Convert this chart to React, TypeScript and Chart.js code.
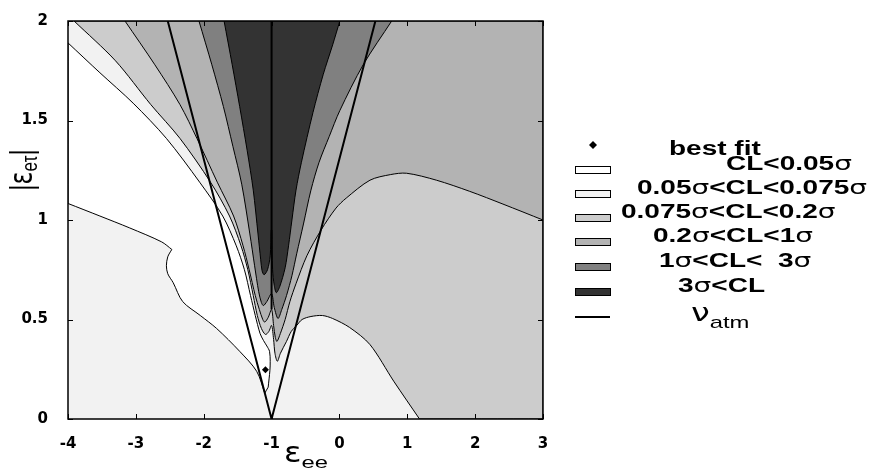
import React, { useEffect, useRef } from 'react';
import { Chart, registerables } from 'chart.js';

Chart.register(...registerables);

type Pt = { x: number; y: number };
const p = (x: number, y: number): Pt => ({ x, y });

// axis ticks
const xTickValues = [-4, -3, -2, -1, 0, 1, 2, 3];
const xTickLabels = ['-4', '-3', '-2', '-1', '0', '1', '2', '3'];
const yTickValues = [0, 0.5, 1, 1.5, 2];
const yTickLabels = ['0', '0.5', '1', '1.5', '2'];

// region colours (CL<0.05, 0.05-0.075, 0.075-0.2, 0.2-1, 1-3, >3 sigma)
const regionColors = ['#ffffff', '#f2f2f2', '#cccccc', '#b3b3b3', '#808080', '#333333'];

// lower-left boundary of the white region (CL = 0.05 sigma, lower branch), split at the kink
const curveAUpper: Pt[] = [
  p(-4, 1.083), p(-3.53, 1.02), p(-3.09, 0.96), p(-2.62, 0.89), p(-2.47, 0.852),
];
const curveALower: Pt[] = [
  p(-2.47, 0.852), p(-2.53, 0.815), p(-2.55, 0.77), p(-2.53, 0.73), p(-2.45, 0.685),
  p(-2.31, 0.59), p(-2.05, 0.52), p(-1.81, 0.455), p(-1.47, 0.34), p(-1.22, 0.24), p(-1.1, 0.13),
];

// CL = 0.05 sigma, upper branch (top-left down into the V)
const line1: Pt[] = [
  p(-4, 1.89), p(-3.53, 1.74), p(-3.04, 1.587), p(-2.55, 1.41), p(-2.06, 1.19),
  p(-1.72, 1.02), p(-1.52, 0.87), p(-1.4, 0.75), p(-1.31, 0.62), p(-1.24, 0.52),
  p(-1.17, 0.43), p(-1.12, 0.395), p(-1.07, 0.367), p(-1.03, 0.34), p(-1.02, 0.29),
  p(-1.025, 0.243), p(-1.05, 0.16),
];

// CL = 0.075 sigma
const line2Left: Pt[] = [
  p(-3.91, 2), p(-3.3, 1.8), p(-2.78, 1.58), p(-2.35, 1.41), p(-1.9, 1.19),
  p(-1.62, 1.02), p(-1.45, 0.87), p(-1.35, 0.75), p(-1.27, 0.62), p(-1.21, 0.52),
  p(-1.15, 0.455), p(-1.09, 0.425), p(-1.04, 0.44), p(-1.0, 0.47), p(-0.97, 0.4),
  p(-0.95, 0.33), p(-0.915, 0.29),
];
const line2Right: Pt[] = [
  p(-0.87, 0.33), p(-0.78, 0.39), p(-0.71, 0.44), p(-0.63, 0.47), p(-0.55, 0.5),
  p(-0.42, 0.515), p(-0.25, 0.52), p(-0.1, 0.505), p(0.15, 0.46), p(0.45, 0.374),
  p(0.8, 0.19), p(1.18, 0),
];

// CL = 0.2 sigma
const line3Left: Pt[] = [
  p(-3.16, 2), p(-2.72, 1.78), p(-2.35, 1.58), p(-2.1, 1.41), p(-1.8, 1.19),
  p(-1.56, 1.02), p(-1.42, 0.87), p(-1.33, 0.75), p(-1.24, 0.62), p(-1.18, 0.55),
  p(-1.13, 0.5), p(-1.1, 0.487), p(-1.05, 0.51), p(-1.0, 0.55), p(-0.97, 0.47),
  p(-0.945, 0.41), p(-0.92, 0.39),
];
const line3Right: Pt[] = [
  p(-0.87, 0.43), p(-0.8, 0.5), p(-0.73, 0.59), p(-0.64, 0.68), p(-0.48, 0.82),
  p(-0.27, 0.95), p(-0.05, 1.06), p(0.1, 1.11), p(0.45, 1.2), p(0.75, 1.228),
  p(0.99, 1.235), p(1.43, 1.2), p(1.92, 1.144), p(2.41, 1.08), p(3, 1.0),
];

// CL = 1 sigma
const line4Left: Pt[] = [
  p(-2.07, 2), p(-1.88, 1.78), p(-1.71, 1.57), p(-1.57, 1.37), p(-1.44, 1.18),
  p(-1.32, 0.93), p(-1.25, 0.77), p(-1.19, 0.64), p(-1.15, 0.585), p(-1.12, 0.57),
  p(-1.07, 0.59), p(-1.0, 0.63), p(-0.96, 0.56), p(-0.905, 0.505),
];
const line4Right: Pt[] = [
  p(-0.85, 0.55), p(-0.78, 0.62), p(-0.7, 0.72), p(-0.63, 0.83), p(-0.53, 0.98),
  p(-0.42, 1.15), p(-0.3, 1.29), p(-0.15, 1.42), p(0.006, 1.55), p(0.35, 1.78), p(0.77, 2),
];

// CL = 3 sigma
const line5Left: Pt[] = [
  p(-1.7, 2), p(-1.58, 1.78), p(-1.47, 1.57), p(-1.36, 1.35), p(-1.27, 1.15),
  p(-1.2, 0.93), p(-1.16, 0.8), p(-1.14, 0.745), p(-1.11, 0.725), p(-1.06, 0.75),
  p(-1.02, 0.82), p(-1.005, 0.95), p(-0.995, 0.95), p(-0.985, 0.75), p(-0.96, 0.67),
  p(-0.93, 0.635),
];
const line5Right: Pt[] = [
  p(-0.88, 0.665), p(-0.8, 0.76), p(-0.75, 0.87), p(-0.7, 1.0), p(-0.64, 1.15),
  p(-0.56, 1.29), p(-0.39, 1.54), p(-0.24, 1.73), p(-0.1, 1.88), p(0.006, 2),
];

// nu_atm lines
const nuAtmV: Pt[] = [p(-2.53, 2), p(-1, 0), p(0.53, 2)];
const nuAtmVertical: Pt[] = [p(-1, 2), p(-1, 0.55)];

// best fit point
const bestFit: Pt[] = [p(-1.09, 0.247)];

// legend labels
const legendLabels = [
  'best fit', 'CL<0.05σ', '0.05σ<CL<0.075σ', '0.075σ<CL<0.2σ',
  '0.2σ<CL<1σ', '1σ<CL<  3σ', '3σ<CL',
];

const X_MIN = -4, X_MAX = 3, Y_MIN = 0, Y_MAX = 2;

// repeat the end points of a smooth run so the spline keeps sharp corners there
const sharp = (pts: Pt[]): Pt[] => [pts[0], ...pts, pts[pts.length - 1]];
const corner = (pt: Pt): Pt[] => [pt, pt];

const basePoly: Pt[] = [p(X_MIN, Y_MIN), p(X_MAX, Y_MIN), p(X_MAX, Y_MAX), p(X_MIN, Y_MAX), p(X_MIN, Y_MIN)];
const whitePoly: Pt[] = [
  ...sharp(curveAUpper), ...sharp(curveALower), ...sharp(line1.slice().reverse()), ...corner(curveAUpper[0]),
];
const ccPoly: Pt[] = [
  ...sharp([...line2Left, ...line2Right]), ...corner(p(X_MAX, Y_MIN)), ...corner(p(X_MAX, Y_MAX)), ...corner(line2Left[0]),
];
const b3Poly: Pt[] = [
  ...sharp([...line3Left, ...line3Right]), ...corner(p(X_MAX, Y_MAX)), ...corner(line3Left[0]),
];
const g80Poly: Pt[] = [...sharp([...line4Left, ...line4Right]), ...corner(line4Left[0])];
const darkPoly: Pt[] = [...sharp([...line5Left, ...line5Right]), ...corner(line5Left[0])];

const shape = (label: string, pts: Pt[], color: string, order: number, bw = 1, tension = 0.3) => ({
  label,
  data: pts,
  showLine: true,
  fill: 'shape',
  backgroundColor: color,
  borderColor: '#000',
  borderWidth: bw,
  pointRadius: 0,
  pointHoverRadius: 0,
  tension,
  order,
});

function drawRich(ctx: CanvasRenderingContext2D, text: string, x: number, y: number, size: number, sx: number) {
  ctx.save();
  ctx.translate(x, y);
  ctx.scale(sx, 1);
  let cx = 0;
  for (const ch of text) {
    ctx.font = ch === 'σ' ? `${size}px 'DejaVu Sans'` : `bold ${size}px 'Liberation Sans'`;
    ctx.fillText(ch, cx, 0);
    cx += ctx.measureText(ch).width;
  }
  ctx.restore();
}

const decor = {
  id: 'decor',
  afterDatasetsDraw(chart: any) {
    const { ctx, chartArea: a, scales } = chart;
    const sx = scales.x, sy = scales.y;
    ctx.save();
    ctx.strokeStyle = '#000';
    ctx.lineWidth = 1;
    ctx.beginPath();
    const T = 5;
    for (const v of xTickValues) {
      const px = Math.round(sx.getPixelForValue(v)) + 0.5;
      ctx.moveTo(px, a.bottom); ctx.lineTo(px, a.bottom - T);
      ctx.moveTo(px, a.top); ctx.lineTo(px, a.top + T);
    }
    for (const v of yTickValues) {
      const py = Math.round(sy.getPixelForValue(v)) + 0.5;
      ctx.moveTo(a.left, py); ctx.lineTo(a.left + T, py);
      ctx.moveTo(a.right, py); ctx.lineTo(a.right - T, py);
    }
    ctx.stroke();
    ctx.lineWidth = 1.5;
    ctx.strokeRect(a.left, a.top, a.right - a.left, a.bottom - a.top);
    ctx.restore();
  },
  afterDraw(chart: any) {
    const { ctx } = chart;
    ctx.save();
    ctx.fillStyle = '#000';
    ctx.textBaseline = 'alphabetic';
    ctx.textAlign = 'left';

    // x title: epsilon_ee
    ctx.save();
    ctx.translate(284, 462);
    ctx.scale(1.15, 1);
    ctx.font = "28px 'DejaVu Sans'";
    ctx.fillText('ε', 0, 0);
    const ew = ctx.measureText('ε').width;
    ctx.restore();
    ctx.save();
    ctx.translate(284 + ew * 1.15, 468);
    ctx.scale(1.4, 1);
    ctx.font = "17px 'Liberation Sans'";
    ctx.fillText('ee', 0, 0);
    ctx.restore();

    // y title: |epsilon_etau|
    ctx.save();
    ctx.translate(24, 170);
    ctx.scale(1.3, 1);
    ctx.rotate(-Math.PI / 2);
    const parts: [string, string, number][] = [
      ['|', "24px 'Liberation Sans'", 0],
      ['ε', "24px 'DejaVu Sans'", 0],
      ['eτ', "17px 'Liberation Sans'", 4],
      ['|', "24px 'Liberation Sans'", 0],
    ];
    let total = 0;
    for (const [t, f] of parts) { ctx.font = f; total += ctx.measureText(t).width; }
    let cx = -total / 2;
    for (const [t, f, dy] of parts) {
      ctx.font = f;
      ctx.fillText(t, cx, 6 + dy);
      cx += ctx.measureText(t).width;
    }
    ctx.restore();

    // legend
    const textX = [669, 726, 637, 621, 653, 659, 678];
    const base = [155, 170, 194, 218, 242, 267, 292];
    // best fit diamond
    ctx.beginPath();
    ctx.moveTo(593, 141); ctx.lineTo(597, 145); ctx.lineTo(593, 149); ctx.lineTo(589, 145);
    ctx.closePath();
    ctx.fill();
    legendLabels.forEach((lab, i) => {
      drawRich(ctx, lab, textX[i], base[i], 20, 1.4);
      if (i > 0) {
        ctx.fillStyle = regionColors[i - 1];
        ctx.fillRect(575, base[i] - 3.5, 35, 7);
        ctx.strokeStyle = '#000';
        ctx.lineWidth = 1;
        ctx.strokeRect(575.5, base[i] - 3.5, 35, 7);
        ctx.fillStyle = '#000';
      }
    });
    // nu_atm
    ctx.strokeStyle = '#000';
    ctx.lineWidth = 2;
    ctx.beginPath();
    ctx.moveTo(575, 317); ctx.lineTo(610, 317);
    ctx.stroke();
    ctx.save();
    ctx.translate(691, 321);
    ctx.scale(1.4, 1);
    ctx.font = "24px 'DejaVu Sans'";
    ctx.fillText('ν', 0, 0);
    const nw = ctx.measureText('ν').width;
    ctx.font = "17px 'Liberation Sans'";
    ctx.fillText('atm', nw, 7);
    ctx.restore();

    ctx.restore();
  },
};

export default function App() {
  const ref = useRef<HTMLCanvasElement>(null);
  useEffect(() => {
    const tickFont = { family: "'DejaVu Sans'", size: 15, weight: 'bold' as const };
    const chart = new Chart(ref.current as HTMLCanvasElement, {
      type: 'scatter',
      data: {
        datasets: [
          {
            label: 'best fit', data: bestFit, showLine: false, pointStyle: 'rectRot',
            pointRadius: 3.5, backgroundColor: '#000', borderColor: '#000', borderWidth: 0, order: 0,
          } as any,
          { label: 'nu_atm', data: nuAtmV, showLine: true, fill: false, borderColor: '#000', borderWidth: 2, pointRadius: 0, order: 1 } as any,
          { label: 'nu_atm2', data: nuAtmVertical, showLine: true, fill: false, borderColor: '#000', borderWidth: 2, pointRadius: 0, order: 1 } as any,
          shape('3σ<CL', darkPoly, regionColors[5], 3) as any,
          shape('1σ<CL<3σ', g80Poly, regionColors[4], 4) as any,
          shape('0.2σ<CL<1σ', b3Poly, regionColors[3], 5) as any,
          shape('0.075σ<CL<0.2σ', ccPoly, regionColors[2], 6) as any,
          shape('CL<0.05σ', whitePoly, regionColors[0], 7) as any,
          shape('0.05σ<CL<0.075σ', basePoly, regionColors[1], 8, 0, 0) as any,
        ],
      },
      options: {
        animation: false,
        responsive: false,
        events: [],
        layout: { padding: { left: 0, right: 335, top: 13, bottom: 0 } },
        plugins: { legend: { display: false }, tooltip: { enabled: false } },
        scales: {
          x: {
            type: 'linear', min: X_MIN, max: X_MAX,
            afterBuildTicks: (s: any) => { s.ticks = xTickValues.map((v) => ({ value: v })); },
            afterFit: (s: any) => { s.height = 55; },
            ticks: {
              font: tickFont, color: '#000', padding: 8,
              callback: (v: number) => xTickLabels[xTickValues.indexOf(v)] ?? '',
            },
            grid: { display: false },
            border: { display: false },
          },
          y: {
            type: 'linear', min: Y_MIN, max: Y_MAX,
            afterBuildTicks: (s: any) => { s.ticks = yTickValues.map((v) => ({ value: v })); },
            afterFit: (s: any) => { s.width = 68; },
            ticks: {
              font: tickFont, color: '#000', padding: 12,
              callback: (v: number) => yTickLabels[yTickValues.indexOf(v)] ?? '',
            },
            grid: { display: false },
            border: { display: false },
          },
        },
      } as any,
      plugins: [decor],
    });
    return () => chart.destroy();
  }, []);
  return (
    <div style={{ position: 'absolute', left: 0, top: 0, width: 878, height: 474, background: '#fff' }}>
      <canvas ref={ref} width={878} height={474} style={{ display: 'block', width: 878, height: 474 }} />
    </div>
  );
}
